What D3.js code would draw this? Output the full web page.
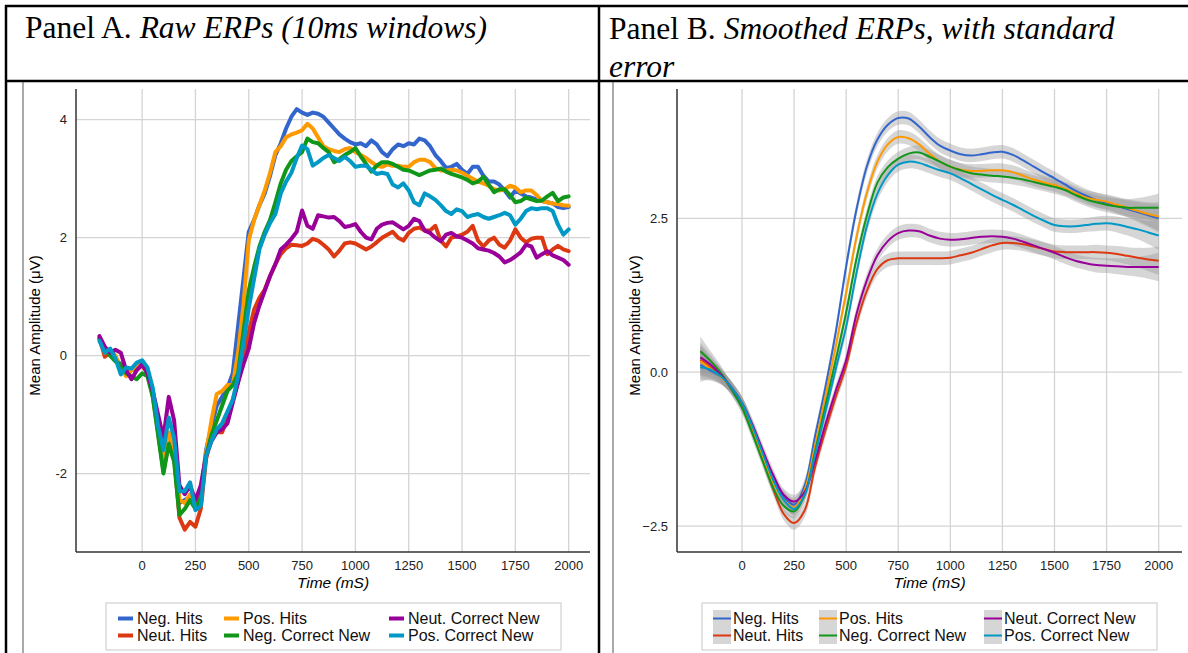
<!DOCTYPE html>
<html>
<head>
<meta charset="utf-8">
<script src="https://cdn.jsdelivr.net/npm/d3@7"></script>
<style>
  body { margin: 0; background: #fff; }
  svg { display: block; }
</style>
</head>
<body>
<div class="figure"></div>
<script>
// ---- Series (legend order follows the colour palette) ----
const seriesNames = ["Neg. Hits", "Neut. Hits", "Pos. Hits", "Neg. Correct New", "Neut. Correct New", "Pos. Correct New"];
const seriesColors = ["#3366cc", "#dc3912", "#ff9900", "#109618", "#990099", "#0099c6"];

// ---- Panel A: raw ERPs, read every 25 ms ----
const rawTimes = [
  -200, -175, -150, -125, -100, -75, -50, -25, 0,
  25, 50, 75, 100, 125, 150, 175, 200, 225, 250,
  275, 300, 325, 350, 375, 400, 425, 450, 475, 500,
  525, 550, 575, 600, 625, 650, 675, 700, 725, 750,
  775, 800, 825, 850, 875, 900, 925, 950, 975, 1000,
  1025, 1050, 1075, 1100, 1125, 1150, 1175, 1200, 1225, 1250,
  1275, 1300, 1325, 1350, 1375, 1400, 1425, 1450, 1475, 1500,
  1525, 1550, 1575, 1600, 1625, 1650, 1675, 1700, 1725, 1750,
  1775, 1800, 1825, 1850, 1875, 1900, 1925, 1950, 1975, 2000
];
const rawNegHits = [
  0.30, 0.10, 0.05, -0.05, -0.15, -0.30, -0.25, -0.20, -0.15,
  -0.30, -0.60, -1.20, -1.90, -1.40, -1.70, -2.50, -2.45, -2.40, -2.55,
  -2.35, -1.60, -1.20, -0.85, -0.70, -0.55, -0.30, 0.50, 1.30, 2.10,
  2.30, 2.55, 2.75, 3.05, 3.40, 3.60, 3.85, 4.05, 4.18, 4.12,
  4.08, 4.12, 4.10, 4.05, 3.95, 3.85, 3.75, 3.68, 3.62, 3.58,
  3.60, 3.55, 3.65, 3.58, 3.45, 3.38, 3.50, 3.58, 3.55, 3.60,
  3.58, 3.68, 3.65, 3.55, 3.40, 3.30, 3.18, 3.20, 3.25, 3.15,
  3.08, 3.20, 3.20, 3.05, 2.95, 2.95, 2.90, 2.80, 2.68, 2.80,
  2.75, 2.70, 2.68, 2.65, 2.62, 2.60, 2.58, 2.52, 2.50, 2.52
];
const rawNeutHits = [
  0.30, -0.02, 0.05, -0.05, -0.20, -0.30, -0.25, -0.20, -0.15,
  -0.30, -0.65, -1.30, -1.95, -1.45, -1.70, -2.75, -2.95, -2.82, -2.90,
  -2.60, -1.75, -1.40, -1.30, -1.30, -1.05, -0.75, -0.45, -0.05, 0.40,
  0.78, 0.98, 1.12, 1.35, 1.55, 1.72, 1.82, 1.88, 1.87, 1.86,
  1.90, 1.98, 1.95, 1.88, 1.80, 1.68, 1.78, 1.90, 1.92, 1.90,
  1.85, 1.80, 1.85, 1.92, 2.00, 2.05, 2.10, 2.00, 1.95, 2.08,
  2.15, 2.17, 2.12, 2.12, 2.20, 1.95, 1.85, 2.00, 2.02, 2.05,
  2.10, 2.20, 1.95, 1.85, 1.95, 2.00, 1.88, 1.83, 1.95, 2.14,
  2.00, 1.92, 1.98, 2.00, 2.00, 1.72, 1.80, 1.86, 1.80, 1.77
];
const rawPosHits = [
  0.30, 0.05, 0.10, 0.00, -0.20, -0.35, -0.25, -0.15, -0.20,
  -0.25, -0.70, -1.30, -1.85, -1.30, -1.55, -2.45, -2.50, -2.35, -2.50,
  -2.30, -1.65, -1.10, -0.65, -0.60, -0.50, -0.50, 0.05, 0.85, 1.95,
  2.30, 2.55, 2.80, 3.10, 3.45, 3.55, 3.70, 3.75, 3.78, 3.82,
  3.93, 3.85, 3.70, 3.55, 3.50, 3.47, 3.45, 3.50, 3.52, 3.45,
  3.40, 3.35, 3.28, 3.22, 3.20, 3.24, 3.22, 3.22, 3.20, 3.20,
  3.28, 3.32, 3.32, 3.28, 3.18, 3.14, 3.14, 3.15, 3.14, 3.10,
  3.05, 3.00, 2.95, 2.92, 2.88, 2.82, 2.80, 2.82, 2.88, 2.85,
  2.77, 2.80, 2.80, 2.72, 2.62, 2.60, 2.58, 2.57, 2.55, 2.54
];
const rawNegCorrectNew = [
  0.28, 0.10, 0.00, -0.10, -0.15, -0.30, -0.35, -0.40, -0.30,
  -0.35, -0.70, -1.35, -2.00, -1.50, -1.80, -2.70, -2.60, -2.45, -2.60,
  -2.40, -1.70, -1.35, -1.10, -0.85, -0.60, -0.50, -0.30, 0.40, 1.10,
  1.50, 1.85, 2.10, 2.30, 2.60, 2.92, 3.15, 3.30, 3.38, 3.45,
  3.68, 3.62, 3.60, 3.52, 3.45, 3.28, 3.33, 3.40, 3.45, 3.52,
  3.38, 3.25, 3.12, 3.22, 3.28, 3.28, 3.25, 3.20, 3.15, 3.14,
  3.10, 3.06, 3.10, 3.14, 3.15, 3.17, 3.12, 3.08, 3.05, 3.02,
  2.98, 2.92, 2.95, 3.03, 2.90, 2.77, 2.82, 2.82, 2.72, 2.60,
  2.62, 2.68, 2.65, 2.62, 2.63, 2.70, 2.76, 2.62, 2.68, 2.70
];
const rawNeutCorrectNew = [
  0.33, 0.15, 0.05, 0.10, 0.05, -0.25, -0.40, -0.25, -0.15,
  -0.30, -0.60, -1.00, -1.40, -0.70, -1.10, -2.20, -2.35, -2.20, -2.45,
  -2.20, -1.70, -1.45, -1.30, -1.25, -1.15, -0.80, -0.45, -0.15, 0.12,
  0.55, 0.85, 1.10, 1.35, 1.55, 1.80, 1.88, 1.98, 2.10, 2.46,
  2.20, 2.15, 2.38, 2.36, 2.34, 2.35, 2.28, 2.18, 2.20, 2.23,
  2.10, 2.00, 1.97, 2.15, 2.22, 2.25, 2.26, 2.20, 2.14, 2.20,
  2.32, 2.28, 2.12, 2.08, 2.00, 1.94, 2.05, 2.08, 2.02, 2.00,
  1.95, 1.90, 1.82, 1.80, 1.78, 1.74, 1.68, 1.58, 1.62, 1.68,
  1.75, 1.88, 1.85, 1.66, 1.72, 1.77, 1.70, 1.66, 1.62, 1.54
];
const rawPosCorrectNew = [
  0.25, 0.05, 0.12, -0.05, -0.32, -0.20, -0.22, -0.12, -0.08,
  -0.20, -0.55, -1.20, -1.60, -1.05, -1.40, -2.30, -2.30, -2.15, -2.62,
  -2.55, -1.70, -1.45, -1.25, -1.15, -0.95, -0.75, -0.35, 0.20, 0.80,
  1.30, 1.80, 2.05, 2.25, 2.40, 2.75, 2.95, 3.10, 3.35, 3.56,
  3.50, 3.22, 3.28, 3.35, 3.40, 3.35, 3.30, 3.37, 3.30, 3.20,
  3.22, 3.22, 3.15, 3.08, 3.10, 3.08, 2.90, 2.85, 2.92, 2.80,
  2.60, 2.55, 2.75, 2.70, 2.64, 2.55, 2.45, 2.40, 2.48, 2.45,
  2.35, 2.38, 2.40, 2.35, 2.32, 2.35, 2.38, 2.42, 2.38, 2.22,
  2.32, 2.45, 2.50, 2.48, 2.50, 2.50, 2.45, 2.22, 2.05, 2.14
];

// ---- Panel B: smoothed ERPs, read every 50 ms ----
const smTimes = [
  -200, -150, -100, -50, 0, 50, 100, 150, 200, 250,
  300, 350, 400, 450, 500, 550, 600, 650, 700, 750,
  800, 850, 900, 950, 1000, 1050, 1100, 1150, 1200, 1250,
  1300, 1350, 1400, 1450, 1500, 1550, 1600, 1650, 1700, 1750,
  1800, 1850, 1900, 1950, 2000
];
const smNegHits = [
  0.12, 0.02, -0.08, -0.25, -0.50, -0.90, -1.35, -1.75, -2.02, -2.15,
  -1.85, -1.05, -0.25, 0.65, 1.72, 2.65, 3.35, 3.78, 4.02, 4.13,
  4.12, 3.99, 3.82, 3.68, 3.60, 3.54, 3.52, 3.54, 3.57, 3.58,
  3.53, 3.44, 3.34, 3.24, 3.15, 3.05, 2.95, 2.87, 2.80, 2.75,
  2.70, 2.65, 2.60, 2.55, 2.50
];
const smNeutHits = [
  0.20, 0.08, -0.06, -0.28, -0.55, -0.95, -1.42, -1.90, -2.30, -2.45,
  -2.25, -1.55, -0.95, -0.40, 0.10, 0.80, 1.33, 1.68, 1.82, 1.85,
  1.85, 1.85, 1.85, 1.85, 1.86, 1.90, 1.94, 2.00, 2.06, 2.10,
  2.10, 2.08, 2.04, 2.00, 1.96, 1.95, 1.95, 1.95, 1.95, 1.94,
  1.92, 1.89, 1.86, 1.83, 1.81
];
const smPosHits = [
  0.18, 0.05, -0.08, -0.25, -0.50, -0.90, -1.38, -1.80, -2.07, -2.20,
  -1.92, -1.20, -0.40, 0.42, 1.29, 2.20, 2.92, 3.42, 3.70, 3.82,
  3.80, 3.70, 3.55, 3.42, 3.34, 3.29, 3.27, 3.27, 3.28, 3.28,
  3.25, 3.19, 3.13, 3.08, 3.04, 2.98, 2.91, 2.84, 2.80, 2.77,
  2.72, 2.67, 2.62, 2.57, 2.53
];
const smNegCorrectNew = [
  0.34, 0.18, -0.02, -0.28, -0.58, -1.00, -1.45, -1.88, -2.17, -2.26,
  -2.00, -1.30, -0.55, 0.20, 0.97, 1.85, 2.55, 3.08, 3.33, 3.47,
  3.55, 3.57, 3.50, 3.42, 3.34, 3.28, 3.23, 3.21, 3.19, 3.18,
  3.16, 3.13, 3.09, 3.05, 3.01, 2.96, 2.88, 2.81, 2.76, 2.72,
  2.69, 2.67, 2.67, 2.67, 2.67
];
const smNeutCorrectNew = [
  0.24, 0.12, -0.05, -0.25, -0.50, -0.85, -1.27, -1.67, -1.99, -2.10,
  -1.95, -1.45, -0.85, -0.30, 0.20, 0.95, 1.50, 1.90, 2.13, 2.26,
  2.30, 2.29, 2.22, 2.17, 2.15, 2.16, 2.18, 2.20, 2.21, 2.20,
  2.17, 2.12, 2.06, 2.00, 1.94, 1.87, 1.81, 1.77, 1.74, 1.73,
  1.72, 1.71, 1.71, 1.71, 1.71
];
const smPosCorrectNew = [
  0.08, 0.04, -0.07, -0.25, -0.50, -0.88, -1.32, -1.75, -2.07, -2.22,
  -2.00, -1.35, -0.65, 0.05, 0.74, 1.62, 2.38, 2.90, 3.20, 3.37,
  3.42, 3.40, 3.34, 3.28, 3.23, 3.15, 3.06, 2.97, 2.88, 2.80,
  2.72, 2.63, 2.54, 2.46, 2.39, 2.37, 2.37, 2.39, 2.41, 2.42,
  2.40, 2.36, 2.32, 2.27, 2.22
];
// standard error half-width of the ribbons (µV)
const smStdErr = [
  0.24, 0.16, 0.12, 0.10, 0.10, 0.10, 0.10, 0.10, 0.10, 0.11,
  0.11, 0.11, 0.11, 0.11, 0.11, 0.11, 0.11, 0.11, 0.11, 0.11,
  0.11, 0.11, 0.11, 0.11, 0.11, 0.11, 0.11, 0.11, 0.11, 0.11,
  0.11, 0.11, 0.11, 0.11, 0.11, 0.11, 0.11, 0.11, 0.12, 0.12,
  0.13, 0.14, 0.16, 0.19, 0.23
];

// ---- Tick labels ----
const timeTicks = [0, 250, 500, 750, 1000, 1250, 1500, 1750, 2000];
const rawAmpTicks = [-2, 0, 2, 4];
const smAmpTicks = [-2.5, 0, 2.5];

const rawSeries = [rawNegHits, rawNeutHits, rawPosHits, rawNegCorrectNew, rawNeutCorrectNew, rawPosCorrectNew];
const smSeries = [smNegHits, smNeutHits, smPosHits, smNegCorrectNew, smNeutCorrectNew, smPosCorrectNew];

const sansFont = "'Liberation Sans', Arial, Helvetica, sans-serif";
const serifFont = "'Liberation Serif', 'Times New Roman', serif";

const svg = d3.select(".figure")
  .append("svg")
  .attr("width", 1188)
  .attr("height", 653);

svg.append("rect").attr("width", 1188).attr("height", 653).attr("fill", "#fff");

// ---- Scales (one pair per panel) ----
const xA = d3.scaleLinear().domain([-310, 2100]).range([76, 590]);
const yA = d3.scaleLinear().domain([-3.33, 4.52]).range([552, 89]);
const xB = d3.scaleLinear().domain([-312, 2112]).range([677, 1182]);
const yB = d3.scaleLinear().domain([-2.92, 4.6]).range([552, 89]);

// Grid, axis lines, tick labels and titles for one panel
function drawFrame(x, y, yTicks, yFormat, titleOffset) {
  const g = svg.append("g");
  const [x0, x1] = x.range();
  const [y1, y0] = y.range();

  g.selectAll(".vgrid").data(timeTicks).join("line")
    .attr("x1", d => x(d)).attr("x2", d => x(d))
    .attr("y1", y0).attr("y2", y1)
    .attr("stroke", "#d4d4d4").attr("stroke-width", 1.3);
  g.selectAll(".hgrid").data(yTicks).join("line")
    .attr("x1", x0).attr("x2", x1)
    .attr("y1", d => y(d)).attr("y2", d => y(d))
    .attr("stroke", "#d4d4d4").attr("stroke-width", 1.3);

  // axis lines (left + bottom only)
  g.append("line").attr("x1", x0).attr("x2", x0).attr("y1", y0).attr("y2", y1)
    .attr("stroke", "#333").attr("stroke-width", 1.5);
  g.append("line").attr("x1", x0).attr("x2", x1).attr("y1", y1).attr("y2", y1)
    .attr("stroke", "#333").attr("stroke-width", 1.5);

  g.selectAll(".xlab").data(timeTicks).join("text")
    .attr("x", d => x(d)).attr("y", y1 + 18)
    .attr("text-anchor", "middle")
    .attr("font-family", sansFont).attr("font-size", 13).attr("fill", "#222")
    .text(d => d);
  g.selectAll(".ylab").data(yTicks).join("text")
    .attr("x", x0 - 9).attr("y", d => y(d) + 4.5)
    .attr("text-anchor", "end")
    .attr("font-family", sansFont).attr("font-size", 13).attr("fill", "#222")
    .text(yFormat);

  g.append("text")
    .attr("x", (x0 + x1) / 2).attr("y", y1 + 36)
    .attr("text-anchor", "middle")
    .attr("font-family", sansFont).attr("font-size", 15.5).attr("font-style", "italic")
    .text("Time (mS)");
  g.append("text")
    .attr("transform", `translate(${x0 - titleOffset}, ${(y0 + y1) / 2 + 5}) rotate(-90)`)
    .attr("text-anchor", "middle")
    .attr("font-family", sansFont).attr("font-size", 15)
    .text("Mean Amplitude (\u03bcV)");
  return g;
}

// Legend box: two rows, three columns, column-major order
function drawLegend(left, smooth) {
  const g = svg.append("g").attr("transform", `translate(${left}, 603)`);
  g.append("rect").attr("width", 455).attr("height", 47)
    .attr("fill", "#fff").attr("stroke", "#c8c8c8").attr("stroke-width", 1);
  const colX = [11, 117, 282];
  seriesNames.forEach((name, i) => {
    const cx = colX[Math.floor(i / 2)];
    const row = i % 2;
    const cy = 15.5 + row * 17;
    if (smooth) {
      g.append("rect").attr("x", cx).attr("y", cy - 8.5).attr("width", 18).attr("height", 17)
        .attr("fill", "#d6d6d6");
      g.append("line").attr("x1", cx).attr("x2", cx + 18).attr("y1", cy).attr("y2", cy)
        .attr("stroke", seriesColors[i]).attr("stroke-width", 2);
    } else {
      g.append("line").attr("x1", cx + 1).attr("x2", cx + 16).attr("y1", cy).attr("y2", cy)
        .attr("stroke", seriesColors[i]).attr("stroke-width", 4);
    }
    g.append("text")
      .attr("x", cx + 20).attr("y", cy + 5.5)
      .attr("font-family", sansFont).attr("font-size", 16).attr("fill", "#111")
      .text(name);
  });
}

// ---- Table frame and headers ----
function hline(x1, x2, y, w, c) {
  svg.append("line").attr("x1", x1).attr("x2", x2).attr("y1", y).attr("y2", y)
    .attr("stroke", c).attr("stroke-width", w);
}
function vline(x, y1, y2, w, c) {
  svg.append("line").attr("x1", x).attr("x2", x).attr("y1", y1).attr("y2", y2)
    .attr("stroke", c).attr("stroke-width", w);
}

const headA = svg.append("text").attr("x", 25).attr("y", 38)
  .attr("font-family", serifFont).attr("font-size", 31.5);
headA.append("tspan").text("Panel A. ");
headA.append("tspan").attr("font-style", "italic").text("Raw ERPs (10ms windows)");

const headB = svg.append("text").attr("x", 609).attr("y", 39)
  .attr("font-family", serifFont).attr("font-size", 31.5);
headB.append("tspan").text("Panel B. ");
headB.append("tspan").attr("font-style", "italic").text("Smoothed ERPs");
headB.append("tspan").text(", ");
headB.append("tspan").attr("font-style", "italic").text("with standard");
svg.append("text").attr("x", 609).attr("y", 77)
  .attr("font-family", serifFont).attr("font-size", 31.5).attr("font-style", "italic")
  .text("error");

// ---- Panel A ----
drawFrame(xA, yA, rawAmpTicks, d => d, 36);

const rawLine = d3.line()
  .x(d => xA(d.t))
  .y(d => yA(d.v))
  .curve(d3.curveLinear);

svg.append("g").selectAll("path")
  .data(rawSeries.map(vals => vals.map((v, i) => ({ t: rawTimes[i], v }))))
  .join("path")
  .attr("d", rawLine)
  .attr("fill", "none")
  .attr("stroke", (d, i) => seriesColors[i])
  .attr("stroke-width", 4)
  .attr("stroke-linejoin", "round")
  .attr("stroke-linecap", "round");

drawLegend(106, false);

// ---- Panel B ----
drawFrame(xB, yB, smAmpTicks, d3.format(".1f"), 37);

const smData = smSeries.map(vals => vals.map((v, i) => ({ t: smTimes[i], v, se: smStdErr[i] })));

const band = d3.area()
  .x(d => xB(d.t))
  .y0(d => yB(d.v - d.se))
  .y1(d => yB(d.v + d.se))
  .curve(d3.curveCatmullRom.alpha(0.5));
const smLine = d3.line()
  .x(d => xB(d.t))
  .y(d => yB(d.v))
  .curve(d3.curveCatmullRom.alpha(0.5));

svg.append("g").selectAll("path")
  .data(smData)
  .join("path")
  .attr("d", band)
  .attr("fill", "#999")
  .attr("fill-opacity", 0.4);

svg.append("g").selectAll("path")
  .data(smData)
  .join("path")
  .attr("d", smLine)
  .attr("fill", "none")
  .attr("stroke", (d, i) => seriesColors[i])
  .attr("stroke-width", 2);

drawLegend(702, true);

// table rules and the thin left edges of the two chart images
hline(5, 1188, 6, 2.5, "#000");
hline(5, 1188, 81, 2.5, "#000");
vline(6, 5, 653, 2.5, "#000");
vline(599, 5, 653, 2.5, "#000");
vline(23, 82, 653, 1, "#555");
vline(613, 82, 653, 1, "#555");
</script>
</body>
</html>
